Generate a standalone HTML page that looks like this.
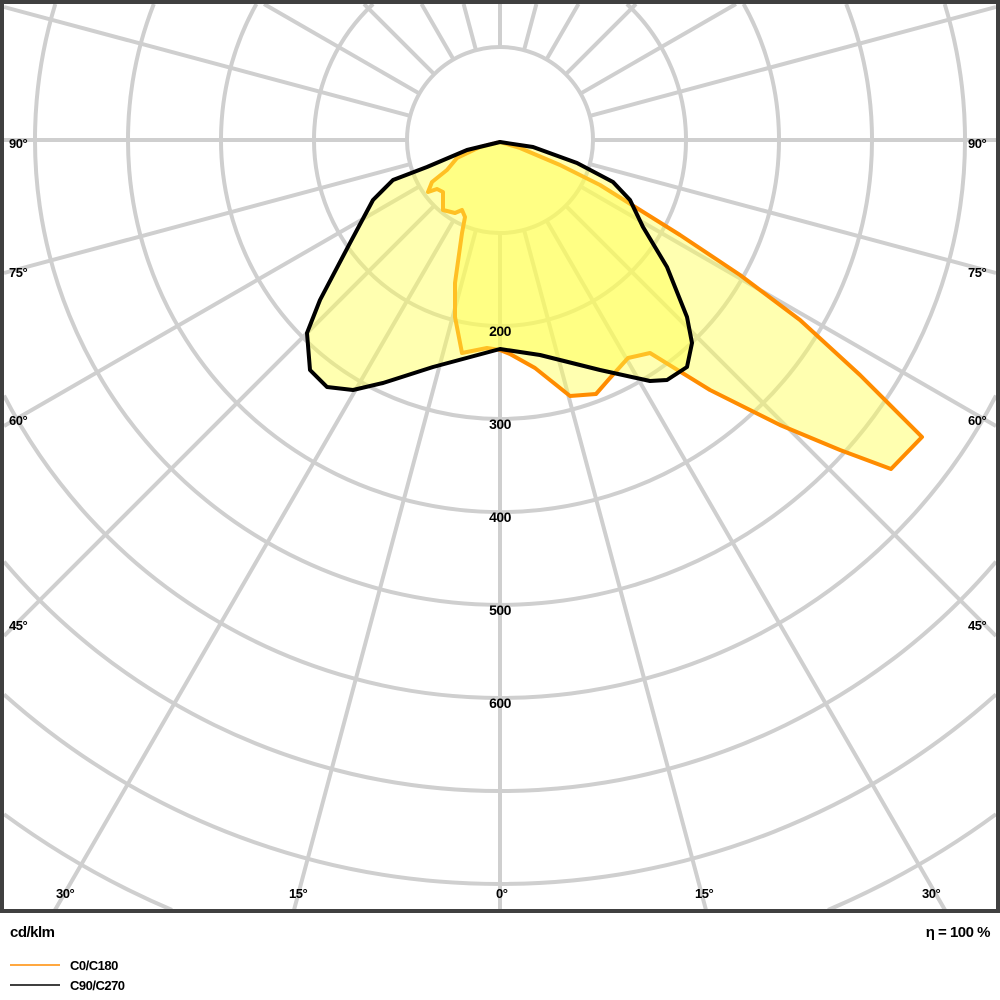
<!DOCTYPE html>
<html><head><style>
html,body{margin:0;padding:0;background:#fff;overflow:hidden;width:1000px;height:1000px;}
svg{display:block;}
svg text{font-family:"Liberation Sans",sans-serif;font-weight:bold;letter-spacing:-0.5px;}
</style></head><body>
<svg width="1000" height="1000" viewBox="0 0 1000 1000" xmlns="http://www.w3.org/2000/svg">
<defs><mask id="m"><rect x="0" y="0" width="1000" height="1000" fill="#fff"/><circle cx="500" cy="140" r="93" fill="#000"/></mask></defs>
<g stroke="#cfcfcf" stroke-width="4" fill="none">
<g mask="url(#m)">
<line x1="500" y1="140" x2="500" y2="910"/>
<line x1="500" y1="140" x2="500" y2="4"/>
<line x1="500" y1="140" x2="4" y2="140"/>
<line x1="500" y1="140" x2="996" y2="140"/>
<line x1="500" y1="140" x2="294" y2="910"/><line x1="500" y1="140" x2="706" y2="910"/>
<line x1="500" y1="140" x2="55" y2="910"/><line x1="500" y1="140" x2="945" y2="910"/>
<line x1="500" y1="140" x2="4" y2="636"/><line x1="500" y1="140" x2="996" y2="636"/>
<line x1="500" y1="140" x2="4" y2="426"/><line x1="500" y1="140" x2="996" y2="426"/>
<line x1="500" y1="140" x2="4" y2="273"/><line x1="500" y1="140" x2="996" y2="273"/>
<line x1="500" y1="140" x2="4" y2="7"/><line x1="500" y1="140" x2="996" y2="7"/>
<line x1="500" y1="140" x2="264" y2="4"/><line x1="500" y1="140" x2="736" y2="4"/>
<line x1="500" y1="140" x2="364" y2="4"/><line x1="500" y1="140" x2="636" y2="4"/>
<line x1="500" y1="140" x2="421.5" y2="4"/><line x1="500" y1="140" x2="578.5" y2="4"/>
<line x1="500" y1="140" x2="463.6" y2="4"/><line x1="500" y1="140" x2="536.4" y2="4"/>
</g>
<circle cx="500" cy="140" r="93"/>
<path d="M373.1,4 A186,186 0 1 0 626.9,4"/>
<path d="M256.4,4 A279,279 0 1 0 743.6,4"/>
<path d="M153.8,4 A372,372 0 1 0 846.2,4"/>
<path d="M55.3,4 A465,465 0 1 0 944.7,4"/>
<path d="M4,395.6 A558,558 0 0 0 996,395.6"/>
<path d="M4,561.7 A651,651 0 0 0 996,561.7"/>
<path d="M4,694.5 A744,744 0 0 0 996,694.5"/>
<path d="M4,814.2 A837,837 0 0 0 172,910"/>
<path d="M828,910 A837,837 0 0 0 996,814.2"/>
</g>
<polygon points="500,142 520,148 560,165 600,185 640,210 680,235 740,275 800,320 860,375 922,437 891,469 840,450 780,425 710,390 650,353 628,358 610,378 596,394 570,396 550,380 535,368 510,354 500,350 487,348 462,353 455,317 455,283 462,233 465,217 462,210 455,213 443,210 443,192 437,189 428,192 432,182 447,170 457,158 480,147" fill="rgba(255,255,80,0.45)" stroke="#ff8c00" stroke-width="4" stroke-linejoin="round"/>
<polygon points="500,142 533,147 577,163 613,182 630,200 643,227 667,267 687,317 692,343 687,367 667,380 650,381 600,370 540,355 500,349 433,367 383,383 353,390 327,387 310,370 307,333 320,300 350,243 373,200 393,180 427,167 467,150" fill="rgba(255,255,80,0.45)" stroke="#000" stroke-width="4" stroke-linejoin="round"/>
<g font-size="14" fill="#000" text-anchor="middle">
<text x="500" y="336">200</text><text x="500" y="429">300</text><text x="500" y="522">400</text>
<text x="500" y="615">500</text><text x="500" y="708">600</text>
</g>
<g font-size="13" fill="#000">
<text x="9" y="148">90°</text><text x="9" y="277">75°</text><text x="9" y="425">60°</text><text x="9" y="630">45°</text>
<text x="968" y="148">90°</text><text x="968" y="277">75°</text><text x="968" y="425">60°</text><text x="968" y="630">45°</text>
<text x="56" y="898">30°</text><text x="289" y="898">15°</text><text x="496" y="898">0°</text><text x="695" y="898">15°</text><text x="922" y="898">30°</text>
</g>
<rect x="2" y="2" width="996" height="909" fill="none" stroke="#404040" stroke-width="4"/>
<text x="10" y="937" font-size="15" fill="#000">cd/klm</text>
<text x="990" y="937" font-size="15" fill="#000" text-anchor="end">η = 100 %</text>
<line x1="10" y1="965" x2="60" y2="965" stroke="#ff8c00" stroke-width="1.5"/>
<line x1="10" y1="985" x2="60" y2="985" stroke="#000" stroke-width="1.5"/>
<text x="70" y="970" font-size="13" fill="#000">C0/C180</text>
<text x="70" y="990" font-size="13" fill="#000">C90/C270</text>
</svg>
</body></html>
